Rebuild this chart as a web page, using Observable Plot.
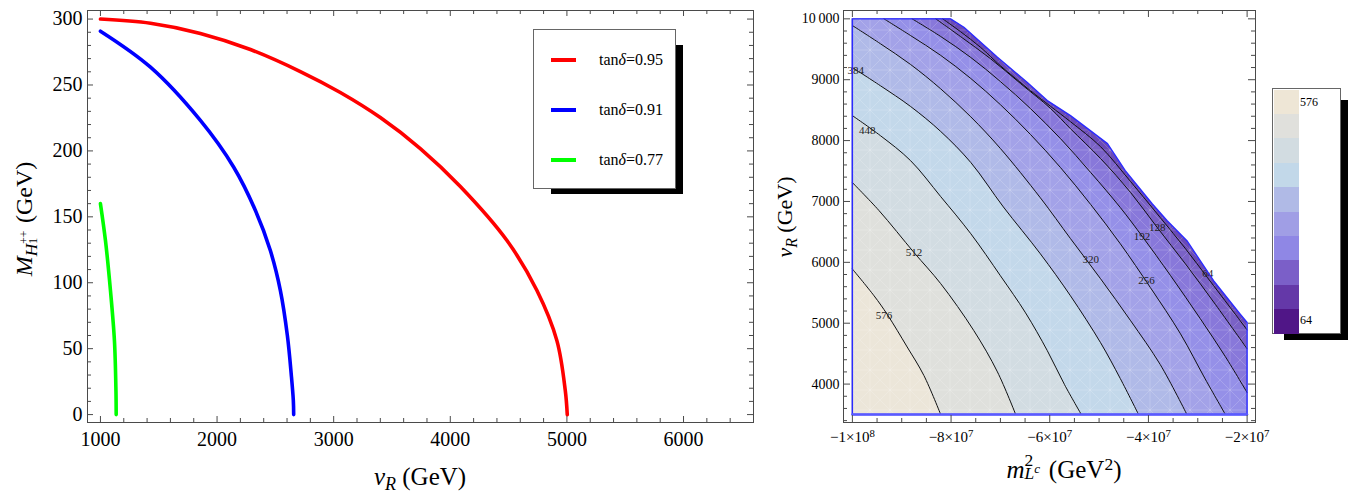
<!DOCTYPE html>
<html><head><meta charset="utf-8">
<script src="https://cdn.jsdelivr.net/npm/d3@7"></script>
<script src="https://cdn.jsdelivr.net/npm/@observablehq/plot@0.6"></script>
<style>
html,body{margin:0;padding:0;background:#fff;}
#wrap{position:relative;width:1366px;height:493px;overflow:hidden;font-family:"Liberation Serif",serif;color:#000;}
#wrap svg{position:absolute;top:0;overflow:visible;}
.abs{position:absolute;}
.lab{position:absolute;white-space:nowrap;line-height:1;transform:translate(-50%,-50%);}
.rot{transform:translate(-50%,-50%) rotate(-90deg);}
.ss{display:inline-block;position:relative;height:1em;vertical-align:baseline;}
.ss>span{position:absolute;left:0;line-height:1;white-space:nowrap;}
</style></head>
<body>
<svg width="0" height="0" style="position:absolute">
  <defs>
    <pattern id="mesh" width="20" height="20" patternUnits="userSpaceOnUse">
      <path d="M0,0L20,20M20,0L0,20M10,0V20M0,10H20" stroke="#fff" stroke-width="0.8" stroke-opacity="0.22" fill="none"/>
    </pattern>
  </defs>
</svg>
<div id="wrap"></div>
<script>
// ================= LEFT PANEL DATA =================
const seriesNames  = ["0.95", "0.91", "0.77"];          // tanδ values
const seriesColors = ["#ff0000", "#0000ff", "#00ff00"];
const redV   = [1000, 1429, 1857, 2286, 2714, 3057, 3400, 3743, 4086, 4486, 4743, 4914, 4986, 5003];
const redM   = [300, 296.8, 289.1, 276.9, 260.2, 244.3, 225.3, 201.8, 173, 132, 94.1, 56.1, 18.2, 0];
const blueV  = [1000, 1429, 1857, 2143, 2329, 2457, 2543, 2603, 2637, 2654, 2657];
const blueM  = [290.8, 263.5, 223.1, 187.6, 154.8, 124.4, 94.1, 59.9, 29.6, 10.6, 0];
const greenV = [1000, 1043, 1086, 1120, 1133, 1135];
const greenM = [160, 132, 94, 56, 18, 0];
const xTicksL = [1000, 2000, 3000, 4000, 5000, 6000];
const yTicksL = [0, 50, 100, 150, 200, 250, 300];

// ================= RIGHT PANEL DATA =================
// x in units of 1e7 GeV^2, y = v_R in GeV
const XMIN = -10, XMAX = -2, YMIN = 3500, YMAX = 10000;
const levels = [64, 128, 192, 256, 320, 384, 448, 512, 576];
const c64  = [[-8.17,10000],[-7.81,9790],[-7.40,9530],[-7.00,9230],[-6.39,8820],[-5.98,8560],[-5.58,8310],[-4.97,7900],[-4.36,7325],[-3.76,6735],[-3.25,6225],[-2.80,5745],[-2.34,5255],[-2.0,4890]];
const c128 = [[-8.31,10000],[-7.81,9710],[-7.20,9345],[-6.59,8935],[-5.98,8525],[-5.58,8195],[-4.97,7705],[-4.36,7145],[-3.82,6570],[-3.25,5975],[-2.64,5305],[-2.0,4580]];
const c192 = [[-8.79,10000],[-8.21,9710],[-7.60,9365],[-7.00,8970],[-6.39,8525],[-5.78,8030],[-5.17,7475],[-4.57,6900],[-4.12,6420],[-3.55,5780],[-2.95,5075],[-2.44,4450],[-2.0,3860]];
const c256 = [[-9.36,10000],[-8.82,9725],[-8.21,9400],[-7.60,9020],[-7.00,8590],[-6.39,8100],[-5.78,7555],[-5.17,6950],[-4.57,6305],[-3.96,5585],[-3.35,4825],[-2.85,4085],[-2.44,3500]];
const c320 = [[-10,9890],[-9.43,9590],[-8.82,9250],[-8.21,8850],[-7.60,8390],[-7.00,7870],[-6.19,7060],[-5.58,6390],[-4.97,5730],[-4.36,5040],[-3.76,4320],[-3.22,3500]];
const c384 = [[-10,9200],[-9.43,8900],[-8.82,8560],[-8.21,8150],[-7.60,7640],[-6.94,6910],[-6.19,6140],[-5.58,5450],[-4.97,4680],[-4.57,4090],[-4.20,3500]];
const c448 = [[-10,8410],[-9.43,8080],[-8.82,7670],[-8.21,7080],[-7.60,6470],[-7.00,5780],[-6.49,5170],[-6.05,4550],[-5.70,3990],[-5.36,3500]];
const c512 = [[-10,7310],[-9.46,6850],[-8.75,6160],[-8.21,5650],[-7.54,4880],[-7.06,4200],[-6.69,3500]];
const c576 = [[-10,5890],[-9.56,5450],[-9.29,5140],[-8.89,4610],[-8.55,4140],[-8.21,3500]];
const contours = [c64, c128, c192, c256, c320, c384, c448, c512, c576];
// jagged upper-right edge of the computed region
const regionEdge = [[-10,10000],[-8.01,10000],[-7.74,9862],[-7.06,9369],[-6.46,8958],[-6.05,8657],[-5.58,8410],[-4.83,7950],[-4.47,7506],[-3.92,6959],[-3.62,6684],[-3.22,6355],[-2.68,5698],[-2.41,5423],[-2.14,5150],[-2.0,5012]];
// band colours from "below 64" up to "above 576"
const bandColors   = ["#6a4ab6","#7a62c6","#8878da","#9590e8","#a3a2e8","#b0bae8","#c3d8ea","#d2dce2","#dfe0dc","#ece6d9"];
// bar legend colours, top (576) to bottom (64)
const legendColors = ["#eee6d6","#e0e0dc","#d2dce1","#c2d8e9","#b0bae6","#a09ee5","#8f87e5","#7b5fc8","#6438a8","#501687"];
const legendLabels = ["576", "64"];
const labelPos = [[64,-2.80,5813],[128,-3.82,6569],[192,-4.13,6421],[256,-4.04,5698],[320,-5.17,6043],[384,-9.93,9150],[448,-9.70,8164],[512,-8.75,6163],[576,-9.36,5120]];
const xTicksR = [-10, -8, -6, -4, -2];
const xTickTextR = ["−1×10^8", "−8×10^7", "−6×10^7", "−4×10^7", "−2×10^7"];
const yTicksR = [4000, 5000, 6000, 7000, 8000, 9000, 10000];

// ================= BUILD =================
const wrap = document.getElementById("wrap");
const AX = "#4a4a4a";
const font = "Liberation Serif";

function frameTicks(xMajor, xMinor, yMajor, yMinor, FW, FH, maj, min) {
  const o = {stroke: AX, strokeWidth: 1};
  return [
    Plot.tickX(xMinor, {...o, x: d => d, insetTop: FH - min}),
    Plot.tickX(xMinor, {...o, x: d => d, insetBottom: FH - min}),
    Plot.tickX(xMajor, {...o, x: d => d, insetTop: FH - maj}),
    Plot.tickX(xMajor, {...o, x: d => d, insetBottom: FH - maj}),
    Plot.tickY(yMinor, {...o, y: d => d, insetRight: FW - min}),
    Plot.tickY(yMinor, {...o, y: d => d, insetLeft: FW - min}),
    Plot.tickY(yMajor, {...o, y: d => d, insetRight: FW - maj}),
    Plot.tickY(yMajor, {...o, y: d => d, insetLeft: FW - maj})
  ];
}

// ---- left plot ----
const LW = 760, H = 493, mL = {l: 87, r: 7, t: 10, b: 71};
const FWL = LW - mL.l - mL.r, FHL = H - mL.t - mL.b;
const xMinorL = d3.range(1000, 6600, 200).filter(d => d % 1000 !== 0);
const yMinorL = d3.range(0, 301, 10).filter(d => d % 50 !== 0);
const curves = [[redV, redM], [blueV, blueM], [greenV, greenM]];
const leftPlot = Plot.plot({
  width: LW, height: H,
  marginLeft: mL.l, marginRight: mL.r, marginTop: mL.t, marginBottom: mL.b,
  x: {domain: [889, 6600], label: null},
  y: {domain: [-6, 306.5], label: null},
  style: {fontFamily: font, fontSize: "20px", color: "#000", background: "transparent"},
  marks: [
    ...frameTicks(xTicksL, xMinorL, yTicksL, yMinorL, FWL, FHL, 6, 4),
    ...curves.map(([vs, ms], i) => Plot.line(vs.map((v, j) => ({v, m: ms[j]})),
        {x: "v", y: "m", stroke: seriesColors[i], strokeWidth: 3.6, curve: "catmull-rom"})),
    Plot.frame({stroke: AX}),
    Plot.axisX({ticks: xTicksL, tickSize: 0, tickPadding: 9, tickFormat: d => String(d), label: null, fontSize: 20}),
    Plot.axisY({ticks: yTicksL, tickSize: 0, tickPadding: 5, tickFormat: d => String(d), label: null, fontSize: 20})
  ]
});
leftPlot.style.left = "0px";
wrap.appendChild(leftPlot);

// ---- right plot ----
const RW = 500, mR = {l: 83, r: 5, t: 10, b: 71};
const FWR = RW - mR.l - mR.r, FHR = H - mR.t - mR.b;
const xMinorR = d3.range(-10, -1.9, 0.5).filter(d => Math.abs(d % 2) > 0.01);
const yMinorR = d3.range(3400, 10001, 200).filter(d => d % 1000 !== 0);
const P = a => a.map(([x, y]) => ({x, y}));
const outline = [...regionEdge, [XMAX, YMIN], [XMIN, YMIN], [XMIN, YMAX]];
const bandMarks = contours.map((c, i) => {
  const data = c[0][1] === YMAX && c[0][0] > XMIN ? [[XMIN, YMAX], ...c] : c;
  return Plot.areaY(P(data), {x: "x", y1: () => YMIN, y2: "y", fill: bandColors[i + 1], curve: "linear"});
});
const rightPlot = Plot.plot({
  width: RW, height: H,
  marginLeft: mR.l, marginRight: mR.r, marginTop: mR.t, marginBottom: mR.b,
  x: {domain: [-10.18, -1.83], label: null},
  y: {domain: [3369, 10137], label: null},
  style: {fontFamily: font, fontSize: "14px", color: "#000", background: "transparent", overflow: "visible"},
  marks: [
    Plot.areaY(P(regionEdge), {x: "x", y1: () => YMIN, y2: "y", fill: bandColors[0], curve: "linear"}),
    ...bandMarks,
    Plot.areaY(P(regionEdge), {x: "x", y1: () => YMIN, y2: "y", fill: "url(#mesh)", curve: "linear"}),
    ...contours.map(c => Plot.line(P(c), {x: "x", y: "y", stroke: "#111", strokeWidth: 1, curve: "catmull-rom"})),
    Plot.text(labelPos.map(([v, x, y]) => ({v, x, y})), {x: "x", y: "y", text: d => String(d.v), fontSize: 11, fill: "#222"}),
    Plot.line(P(outline), {x: "x", y: "y", stroke: "#2a2aff", strokeWidth: 1.4}),
    Plot.line(P([[XMIN, YMIN], [XMAX, YMIN]]), {x: "x", y: "y", stroke: "#5a5aff", strokeWidth: 2.4}),
    ...frameTicks(xTicksR, xMinorR, yTicksR, yMinorR, FWR, FHR, 7, 4),
    Plot.frame({stroke: AX}),
    Plot.axisX({ticks: xTicksR, tickSize: 0, tickPadding: 9, label: null, fontSize: 15,
      tickFormat: d => xTickTextR[xTicksR.indexOf(d)]}),
    Plot.axisY({ticks: yTicksR, tickSize: 0, tickPadding: 4, label: null, fontSize: 14,
      tickFormat: d => d === 10000 ? "10\u2009000" : String(d)})
  ]
});
rightPlot.style.left = "760px";
wrap.appendChild(rightPlot);
// superscript exponents on right x tick labels
d3.select(rightPlot).selectAll('g[aria-label="x-axis tick label"] text').each(function () {
  const parts = this.textContent.split("^");
  if (parts.length === 2) {
    this.textContent = parts[0];
    d3.select(this).append("tspan").attr("dy", "-0.45em").attr("font-size", "0.72em").text(parts[1]);
  }
});

// ---- left legend ----
function add(html, css) { const d = document.createElement("div"); d.className = "abs"; d.style.cssText = css; d.innerHTML = html; wrap.appendChild(d); return d; }
add("", "left:551px;top:45px;width:132px;height:149px;background:#000;");
add("", "left:533px;top:29px;width:141px;height:158px;background:#fff;border:1px solid #666;");
seriesNames.forEach((s, i) => {
  const y = 60 + i * 50;
  add("", `left:551px;top:${y - 1.8}px;width:25px;height:3.6px;background:${seriesColors[i]};`);
  add(`tan<i>δ</i>=${s}`, `left:599px;top:${y - 9}px;font-size:16px;line-height:18px;white-space:nowrap;`);
});

// ---- right bar legend ----
add("", "left:1284px;top:100px;width:64px;height:240px;background:#000;");
add("", "left:1272px;top:88px;width:67px;height:244px;background:#fff;border:1px solid #666;");
legendColors.forEach((c, i) => add("", `left:1274px;top:${89.5 + i * 24.4}px;width:25px;height:24.6px;background:${c};`));
add(legendLabels[0], "left:1300px;top:96px;font-size:12px;line-height:13px;");
add(legendLabels[1], "left:1300px;top:314px;font-size:12px;line-height:13px;");

// ---- axis titles ----
// stacked superscript / subscript helper (sizes relative to the current font)
function ss(sup, sub, w, f = 0.7) {
  return `<span class="ss" style="width:${w}em"><span style="top:-0.08em;font-size:${f}em">${sup}</span><span style="top:0.7em;font-size:${f}em">${sub}</span></span>`;
}
function lab(html, x, y, size, rot) { const d = document.createElement("div"); d.className = "lab" + (rot ? " rot" : ""); d.style.left = x + "px"; d.style.top = y + "px"; d.style.fontSize = size + "px"; d.innerHTML = html; wrap.appendChild(d); }
lab(`<i>M</i><span style="font-size:0.72em;position:relative;top:0.3em;"><i>H</i>${ss("++", "1", 0.85, 0.68)}</span>&nbsp;(GeV)`, 24, 219, 24, true);
lab(`<i>v</i><span style="font-size:0.72em;position:relative;top:0.3em;"><i>R</i></span>&nbsp;(GeV)`, 420, 476, 25, false);
lab(`<i>v</i><span style="font-size:0.72em;position:relative;top:0.3em;"><i>R</i></span>&nbsp;(GeV)`, 785, 217, 22, true);
lab(`<i>m</i>${ss("2", `<i>L</i><span style="font-size:0.75em;position:relative;top:-0.5em;"><i>c</i></span>`, 0.72, 0.7)}&nbsp;(GeV<span style="font-size:0.7em;position:relative;top:-0.45em;">2</span>)`, 1064, 467, 25, false);
</script>
</body></html>
